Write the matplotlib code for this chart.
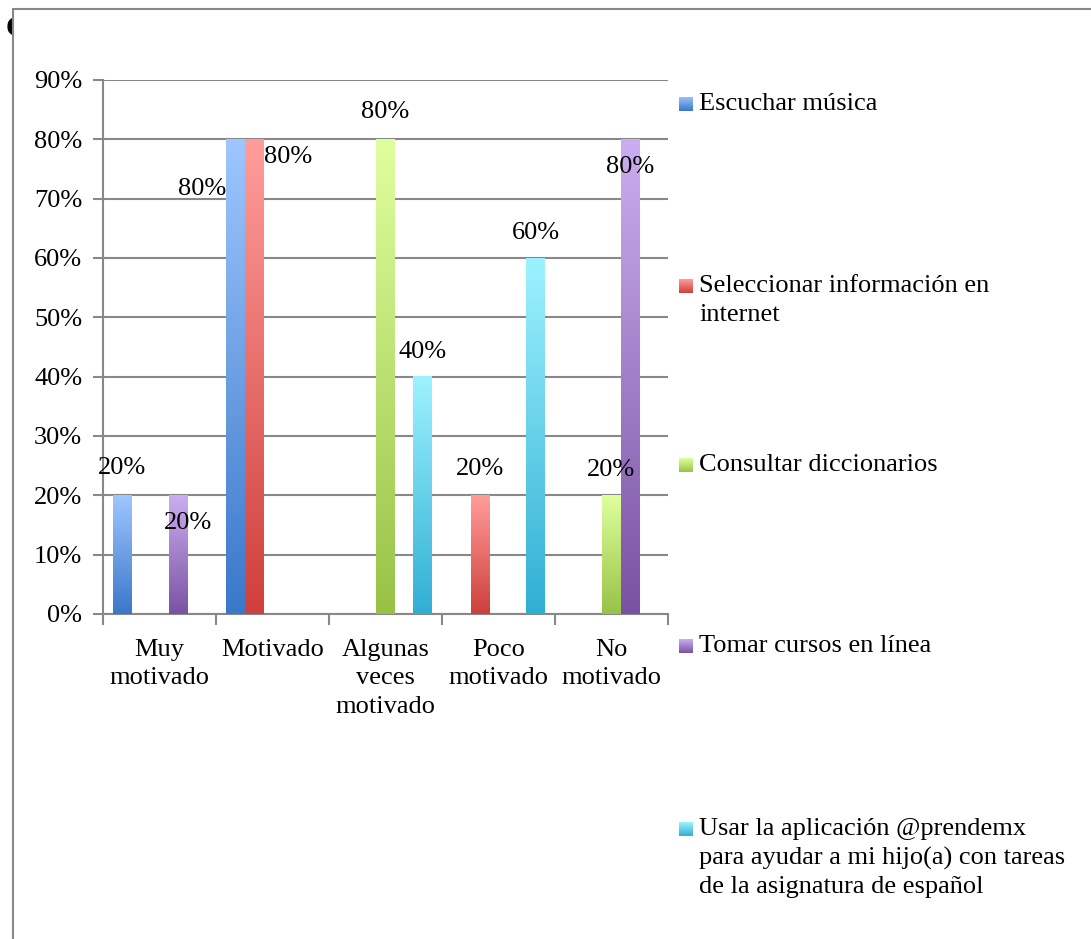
import numpy as np
import matplotlib.pyplot as plt
from matplotlib.colors import LinearSegmentedColormap
from matplotlib.patches import Rectangle
from matplotlib.ticker import FixedLocator, PercentFormatter

plt.rcParams['font.family'] = ['Liberation Serif', 'DejaVu Serif']

# Data ======================================================================
categories = ["Muy\nmotivado", "Motivado", "Algunas\nveces\nmotivado",
              "Poco\nmotivado", "No\nmotivado"]
series_names = [
    "Escuchar música",
    "Seleccionar información en\ninternet",
    "Consultar diccionarios",
    "Tomar cursos en línea",
    "Usar la aplicación @prendemx\npara ayudar a mi hijo(a) con tareas\nde la asignatura de español",
]
escuchar_musica = [0.20, 0.80, np.nan, np.nan, np.nan]
seleccionar_info = [np.nan, 0.80, np.nan, 0.20, np.nan]
consultar_dicc = [np.nan, np.nan, 0.80, np.nan, 0.20]
tomar_cursos = [0.20, np.nan, np.nan, np.nan, 0.80]
usar_aplicacion = [np.nan, np.nan, 0.40, 0.60, np.nan]
all_series = [escuchar_musica, seleccionar_info, consultar_dicc, tomar_cursos, usar_aplicacion]

# (light top, dark bottom) gradient per series
colors = [("#9fc6ff", "#3a78c9"),
          ("#ff9d9b", "#cf3f3b"),
          ("#dfff9e", "#98c246"),
          ("#cbaef0", "#7a52a3"),
          ("#9ef2ff", "#30afd4")]

# label offsets in pixels (series index, category index) -> (dx, dy)
label_offsets = {(0, 0): (0, 27), (3, 0): (10, -28),
                 (0, 1): (-33, -50), (1, 1): (34, -18),
                 (2, 2): (0, 27), (4, 2): (0, 25),
                 (1, 3): (0, 26), (4, 3): (0, 25),
                 (2, 4): (0, 25), (3, 4): (0, -28)}

W, H = 1091, 939
FS = 19
GRAY = "#888888"

def fx(px):
    return px / W

def fy(py):
    return 1 - py / H

fig = plt.figure(figsize=(W / 100, H / 100), dpi=100)

# title letter partly hidden behind the chart frame
fig.text(fx(6), fy(29), "C", fontsize=FS + 2, fontweight="bold", va="center", ha="left", zorder=-3)
fig.add_artist(Rectangle((fx(13), -0.05), 1.1, fy(9) + 0.05, transform=fig.transFigure,
                         facecolor="white", edgecolor=GRAY, linewidth=1.5, zorder=-2))

ax = fig.add_axes([fx(103), fy(614), fx(668) - fx(103), fy(80) - fy(614)])
ax.set_facecolor("none")

n = len(series_names)
bar_w = 0.164
x = np.arange(len(categories))

def gradient_cmap(top, bottom):
    return LinearSegmentedColormap.from_list("g", [bottom, top])

grad = np.linspace(0, 1, 256).reshape(-1, 1)
for s, vals in enumerate(all_series):
    cmap = gradient_cmap(*colors[s])
    bars = ax.bar(x + (s - (n - 1) / 2) * bar_w, vals, width=bar_w, color="none", zorder=3)
    for c, rect in enumerate(bars):
        h = rect.get_height()
        if np.isnan(h):
            continue
        x0 = rect.get_x()
        ax.imshow(grad, cmap=cmap, origin="lower", aspect="auto",
                  extent=(x0, x0 + rect.get_width(), 0, h), zorder=3, interpolation="bilinear")
        dx, dy = label_offsets.get((s, c), (0, 25))
        ax.annotate(f"{h * 100:.0f}%", (x0 + rect.get_width() / 2, h), xytext=(dx, dy),
                    textcoords="offset pixels", ha="center", va="center", fontsize=FS, zorder=5)

ax.set_xlim(-0.5, len(categories) - 0.5)
ax.set_ylim(0, 0.9)
ax.set_yticks(np.arange(0, 0.91, 0.1))
ax.yaxis.set_major_formatter(PercentFormatter(1.0, decimals=0))
ax.yaxis.grid(True, color=GRAY, linewidth=1.5)
ax.set_axisbelow(True)
ax.xaxis.set_major_locator(FixedLocator(np.arange(-0.5, len(categories), 1.0)))
ax.xaxis.set_major_formatter(plt.NullFormatter())
ax.xaxis.set_minor_locator(FixedLocator(x))
ax.set_xticklabels(categories, minor=True, fontsize=FS, linespacing=1.38)
ax.tick_params(axis="x", which="major", length=8, width=1.5, color=GRAY, direction="out")
ax.tick_params(axis="x", which="minor", length=0, pad=18)
ax.tick_params(axis="y", length=7, width=1.5, color=GRAY, labelsize=FS, pad=8)
for side in ["top", "right"]:
    ax.spines[side].set_visible(False)
for side in ["left", "bottom"]:
    ax.spines[side].set_color(GRAY)
    ax.spines[side].set_linewidth(1.5)

# legend, spread down the right side
legend_rows = [104, 286, 465, 646, 829]
for s, name in enumerate(series_names):
    yc = legend_rows[s]
    lax = fig.add_axes([fx(679), fy(yc + 7), fx(14), 14 / H])
    lax.imshow(grad, cmap=gradient_cmap(*colors[s]), origin="lower", aspect="auto")
    lax.axis("off")
    for i, line in enumerate(name.split("\n")):
        fig.text(fx(699), fy(yc + 29 * i), line, fontsize=FS, ha="left", va="center")

fig.savefig("out.png", dpi=100)
